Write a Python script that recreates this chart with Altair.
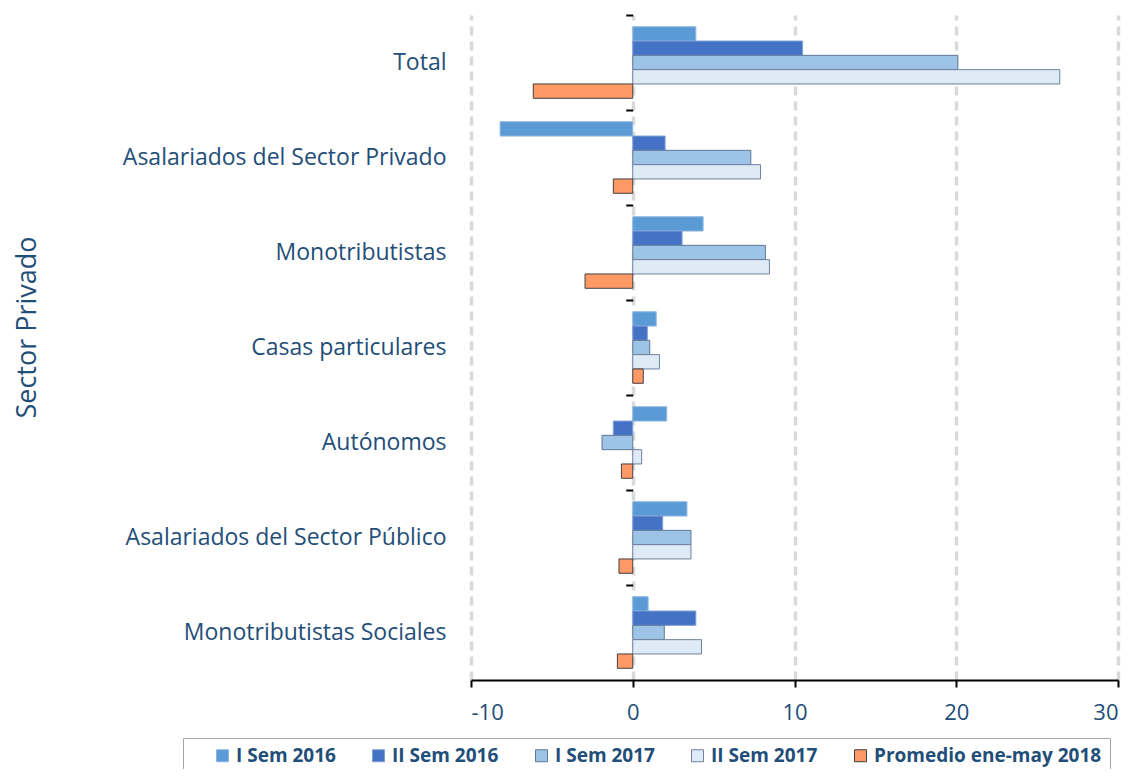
import altair as alt
import pandas as pd

categories = ["Total", "Asalariados del Sector Privado", "Monotributistas",
              "Casas particulares", "Autónomos", "Asalariados del Sector Público",
              "Monotributistas Sociales"]
series = ["I Sem 2016", "II Sem 2016", "I Sem 2017", "II Sem 2017", "Promedio ene-may 2018"]

i_sem_2016 = [3.9, -8.2, 4.35, 1.45, 2.1, 3.35, 0.95]
ii_sem_2016 = [10.5, 2.0, 3.05, 0.9, -1.2, 1.85, 3.9]
i_sem_2017 = [20.1, 7.3, 8.2, 1.05, -1.9, 3.6, 1.95]
ii_sem_2017 = [26.4, 7.9, 8.45, 1.65, 0.55, 3.6, 4.25]
promedio_2018 = [-6.15, -1.2, -2.95, 0.65, -0.7, -0.85, -0.95]

x_ticks = [-10, 0, 10, 20, 30]

fills = ["#5B9BD5", "#4472C4", "#9DC3E6", "#DEEBF7", "#FF9966"]
strokes = ["#8DB7E2", "#7F9FD8", "#5F7896", "#6F819C", "#404040"]

rows = []
for s, vals in zip(series, [i_sem_2016, ii_sem_2016, i_sem_2017, ii_sem_2017, promedio_2018]):
    for c, v in zip(categories, vals):
        rows.append({"category": c, "series": s, "value": v})
df = pd.DataFrame(rows)
cat_df = pd.DataFrame({"category": categories})

FONT = "Open Sans"
TXT = "#1F4E79"

legend_def = alt.Legend(
    title=" ", titleOrient="left", titlePadding=22, titleFontSize=6,
    orient="none", legendX=-288, legendY=723, direction="horizontal",
    symbolType="square", symbolSize=144, symbolStrokeWidth=1,
    labelFont=FONT, labelFontSize=19, labelFontWeight="bold", labelColor=TXT,
    labelLimit=400, columnPadding=33, labelOffset=4, padding=8,
    strokeColor="#A6A6A6",
)

bars = alt.Chart(df).mark_bar(strokeWidth=1).encode(
    y=alt.Y("category:N", sort=categories,
            scale=alt.Scale(paddingInner=0, paddingOuter=0),
            axis=alt.Axis(title="Sector Privado", domain=False, ticks=False, tickSize=0,
                          labelPadding=25, labelFont=FONT, labelFontSize=23,
                          labelColor=TXT, labelLimit=400,
                          titleFont=FONT, titleFontSize=27, titleFontWeight="normal",
                          titleColor=TXT, titleX=-436, titleY=312, titleAngle=270,
                          titleBaseline="alphabetic")),
    yOffset=alt.YOffset("series:N", sort=series,
                        scale=alt.Scale(paddingOuter=0.82, paddingInner=0)),
    x=alt.X("value:Q", scale=alt.Scale(domain=[-10, 30], nice=False),
            axis=alt.Axis(title=None, values=x_ticks, grid=True, gridDash=[9, 6],
                          gridColor="#D9D9D9", gridWidth=3.5,
                          domainColor="black", domainWidth=2,
                          tickColor="black", tickWidth=2, tickSize=7,
                          labelExpr="toString(datum.value)",
                          labelFont=FONT, labelFontSize=22, labelColor=TXT,
                          labelPadding=15)),
    fill=alt.Fill("series:N", sort=series,
                  scale=alt.Scale(domain=series, range=fills), legend=legend_def),
    stroke=alt.Stroke("series:N", sort=series,
                      scale=alt.Scale(domain=series, range=strokes), legend=legend_def),
)

zero = alt.Chart(cat_df).mark_rule(color="black", strokeWidth=2).encode(
    x=alt.datum(0),
    y=alt.Y("category:N", sort=categories,
            axis=alt.Axis(orient="left", offset=-161.75, labels=False, domain=False,
                          ticks=True, tickColor="black", tickWidth=2, tickSize=7,
                          bandPosition=0, title=None, grid=False)),
)

chart = alt.layer(bars, zero).resolve_axis(y="independent").properties(
    width=647, height=665,
    autosize=alt.AutoSizeParams(type="none"),
    padding={"left": 463, "top": 7, "right": 7, "bottom": 89},
).configure_view(stroke=None)

chart.save("out.html", embed_options={"renderer": "svg", "actions": False})
